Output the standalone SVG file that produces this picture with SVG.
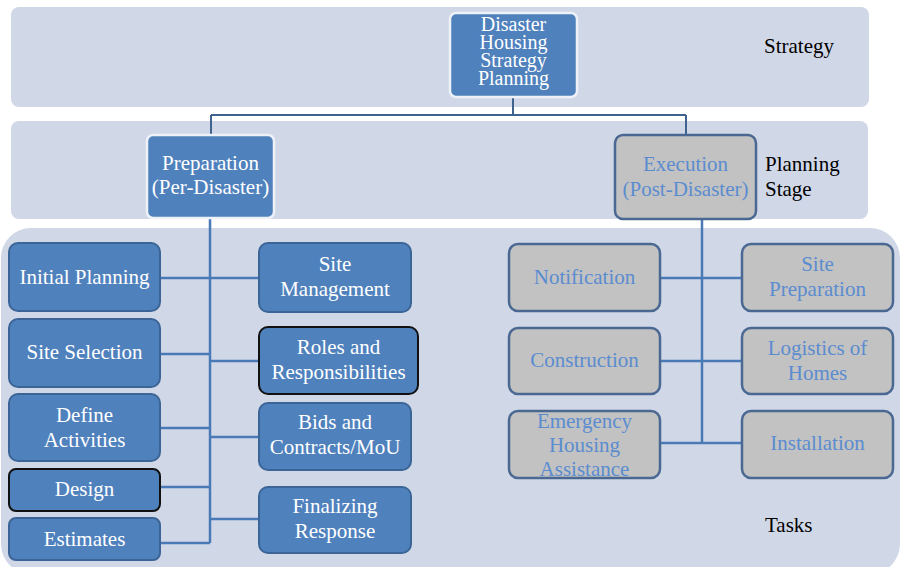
<svg xmlns="http://www.w3.org/2000/svg" width="901" height="567" viewBox="0 0 901 567">
  <style>
    .band { fill: #d0d8e8; }
    .lbl { font-family: "Liberation Serif", "Times New Roman", serif; font-size: 21px; fill: #000; }
    .t { font-family: "Liberation Serif", "Times New Roman", serif; font-size: 21px; text-anchor: middle; }
    .tight { font-size: 20px; }
    .blue rect { fill: #4f81bd; stroke: #3b6596; stroke-width: 2; }
    .blue text { fill: #ffffff; }
    .top rect { fill: #4f81bd; stroke: #eef2f8; stroke-width: 2.5; }
    .top text { fill: #ffffff; }
    .dark rect { stroke: #111; }
    .gray rect { fill: #c2c2c2; stroke: #4a6891; stroke-width: 2.5; }
    .gray text { fill: #5b8cd0; }
    .conn path { fill: none; stroke: #4a7ab6; stroke-width: 2.5; }
    .conn .upper { stroke: #3f638f; stroke-width: 2; }
  </style>

  <rect width="901" height="567" fill="#ffffff"/>

  <!-- level bands -->
  <g id="bands">
    <rect class="band" x="11" y="7" width="858" height="100" rx="8"/>
    <rect class="band" x="11" y="121" width="857" height="98" rx="8"/>
    <rect class="band" x="1" y="228" width="899" height="346" rx="30"/>
    <text class="lbl" x="764" y="53">Strategy</text>
    <text class="lbl" x="765" y="171">Planning</text>
    <text class="lbl" x="765" y="196">Stage</text>
    <text class="lbl" x="765" y="532">Tasks</text>
  </g>

  <!-- connectors -->
  <g id="connectors" class="conn">
    <path class="upper" d="M513 97 V115 M211 115 H686 M211 115 V135 M686 115 V135"/>
    <!-- preparation branch -->
    <path d="M210 218 V543"/>
    <path d="M160 278 H258 M160 354 H210 M210 361 H258 M160 428 H210 M210 437 H258 M160 487 H210 M210 519 H258 M160 543 H210"/>
    <!-- execution branch -->
    <path d="M702 219 V443"/>
    <path d="M660 278 H742 M660 361 H742 M660 443 H742"/>
  </g>

  <!-- strategy -->
  <g id="strategy-planning" class="top">
    <rect x="450" y="13" width="127" height="84" rx="6"/>
    <text class="t tight" x="513.5" y="31">Disaster</text>
    <text class="t tight" x="513.5" y="49">Housing</text>
    <text class="t tight" x="513.5" y="67">Strategy</text>
    <text class="t tight" x="513.5" y="85">Planning</text>
  </g>

  <!-- planning stage -->
  <g id="preparation" class="top">
    <rect x="147" y="135" width="127" height="83" rx="6"/>
    <text class="t" x="210.5" y="170">Preparation</text>
    <text class="t" x="210.5" y="194">(Per-Disaster)</text>
  </g>
  <g id="execution" class="gray">
    <rect x="615" y="135" width="141" height="84" rx="8"/>
    <text class="t" x="685.5" y="171">Execution</text>
    <text class="t" x="685.5" y="196">(Post-Disaster)</text>
  </g>

  <!-- preparation tasks -->
  <g id="initial-planning" class="blue">
    <rect x="9" y="243" width="151" height="68" rx="9"/>
    <text class="t" x="84.5" y="284">Initial Planning</text>
  </g>
  <g id="site-selection" class="blue">
    <rect x="9" y="319" width="151" height="68" rx="9"/>
    <text class="t" x="84.5" y="359">Site Selection</text>
  </g>
  <g id="define-activities" class="blue">
    <rect x="9" y="394" width="151" height="67" rx="9"/>
    <text class="t" x="84.5" y="422">Define</text>
    <text class="t" x="84.5" y="447">Activities</text>
  </g>
  <g id="design" class="blue dark">
    <rect x="9" y="469" width="151" height="42" rx="7"/>
    <text class="t" x="84.5" y="496">Design</text>
  </g>
  <g id="estimates" class="blue">
    <rect x="9" y="518" width="151" height="42" rx="7"/>
    <text class="t" x="84.5" y="546">Estimates</text>
  </g>
  <g id="site-management" class="blue">
    <rect x="259" y="243" width="152" height="69" rx="9"/>
    <text class="t" x="335" y="271">Site</text>
    <text class="t" x="335" y="296">Management</text>
  </g>
  <g id="roles-responsibilities" class="blue dark">
    <rect x="259" y="327" width="159" height="67" rx="9"/>
    <text class="t" x="338.5" y="354">Roles and</text>
    <text class="t" x="338.5" y="379">Responsibilities</text>
  </g>
  <g id="bids-contracts" class="blue">
    <rect x="259" y="403" width="152" height="67" rx="9"/>
    <text class="t" x="335" y="429">Bids and</text>
    <text class="t" x="335" y="454">Contracts/MoU</text>
  </g>
  <g id="finalizing-response" class="blue">
    <rect x="259" y="487" width="152" height="66" rx="9"/>
    <text class="t" x="335" y="513">Finalizing</text>
    <text class="t" x="335" y="538">Response</text>
  </g>

  <!-- execution tasks -->
  <g id="notification" class="gray">
    <rect x="509" y="244" width="151" height="67" rx="9"/>
    <text class="t" x="584.5" y="284">Notification</text>
  </g>
  <g id="construction" class="gray">
    <rect x="509" y="328" width="151" height="66" rx="9"/>
    <text class="t" x="584.5" y="367">Construction</text>
  </g>
  <g id="emergency-housing" class="gray">
    <rect x="509" y="411" width="151" height="67" rx="9"/>
    <text class="t" x="584.5" y="428">Emergency</text>
    <text class="t" x="584.5" y="452">Housing</text>
    <text class="t" x="584.5" y="476">Assistance</text>
  </g>
  <g id="site-preparation" class="gray">
    <rect x="742" y="244" width="151" height="67" rx="9"/>
    <text class="t" x="817.5" y="271">Site</text>
    <text class="t" x="817.5" y="296">Preparation</text>
  </g>
  <g id="logistics-homes" class="gray">
    <rect x="742" y="328" width="151" height="66" rx="9"/>
    <text class="t" x="817.5" y="355">Logistics of</text>
    <text class="t" x="817.5" y="380">Homes</text>
  </g>
  <g id="installation" class="gray">
    <rect x="742" y="411" width="151" height="67" rx="9"/>
    <text class="t" x="817.5" y="450">Installation</text>
  </g>
</svg>
